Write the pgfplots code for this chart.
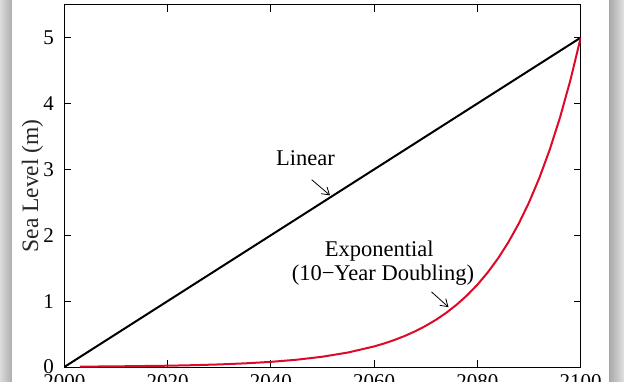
\documentclass[border=0pt]{standalone}
\usepackage{fontspec}
\setmainfont{Liberation Serif}
\usepackage{pgfplots}
\pgfplotsset{compat=1.18}
\usetikzlibrary{arrows.meta}
\definecolor{expred}{RGB}{220,10,40}
\begin{document}
\begin{tikzpicture}
\begin{axis}[
  name=ax,
  at={(0,0)}, anchor=south west,
  scale only axis,
  width=516.4pt, height=362.3pt,
  xmin=2000, xmax=2100, ymin=0, ymax=5.5,
  xtick={2000,2020,2040,2060,2080,2100},
  ytick={0,1,2,3,4,5},
  tick align=inside, tick pos=both,
  major tick length=7pt,
  axis line style={line width=0.8pt},
  tick style={line width=0.8pt, black},
  /pgf/number format/assume math mode=true,
  /pgf/number format/1000 sep={},
  ticklabel style={font=\fontsize{21}{24}\selectfont},
  yticklabel style={xshift=-7pt},
  xticklabel style={yshift=-4pt},
  ylabel={Sea Level (m)},
  ylabel style={font=\fontsize{23.5}{26}\selectfont, at={(axis description cs:-0.0615,0.5)}, anchor=center, color=black!85},
]
\addplot[black, line width=2pt] coordinates {(2000,0) (2100,5)};
\addplot[expred, line width=2pt] coordinates {
(2003,0.0054) (2010,0.009766) (2020,0.01953) (2025,0.02762) (2030,0.0390625)
(2035,0.05524) (2040,0.078125) (2045,0.1105) (2050,0.15625) (2055,0.2210)
(2060,0.3125) (2062,0.3589) (2064,0.4123) (2066,0.4737) (2068,0.5441)
(2070,0.625) (2072,0.7179) (2074,0.8247) (2076,0.9473) (2078,1.0882)
(2080,1.25) (2082,1.4359) (2084,1.6494) (2086,1.8946) (2088,2.1764)
(2090,2.5) (2092,2.8717) (2094,3.2988) (2096,3.7893) (2098,4.3528) (2100,5)
};
\node[anchor=base, font=\fontsize{22.5}{24}\selectfont] at (axis cs:2046.7,3.06) {Linear};
\node[anchor=base, font=\fontsize{22.5}{24}\selectfont] at (axis cs:2061.0,1.671) {Exponential};
\node[anchor=base, font=\fontsize{22.5}{24}\selectfont] at (axis cs:2061.7,1.308) {(10−Year Doubling)};
\draw[line width=0.8pt, -{Straight Barb[length=7pt,width=9pt]}] (axis cs:2047.9,2.844) -- (axis cs:2051.45,2.606);
\draw[line width=0.8pt, -{Straight Barb[length=7pt,width=9pt]}] (axis cs:2071.1,1.141) -- (axis cs:2074.4,0.909);
\end{axis}
\shade[left color=black!14, right color=black!32] (-64.3pt,-14pt) rectangle (-52.3pt,367pt);
\shade[left color=black!34, right color=black!12] (544.7pt,-14pt) rectangle (559.7pt,367pt);
\pgfresetboundingbox
\path[use as bounding box] (-64.3pt,-14pt) rectangle (559.7pt,367pt);
\end{tikzpicture}
\end{document}
